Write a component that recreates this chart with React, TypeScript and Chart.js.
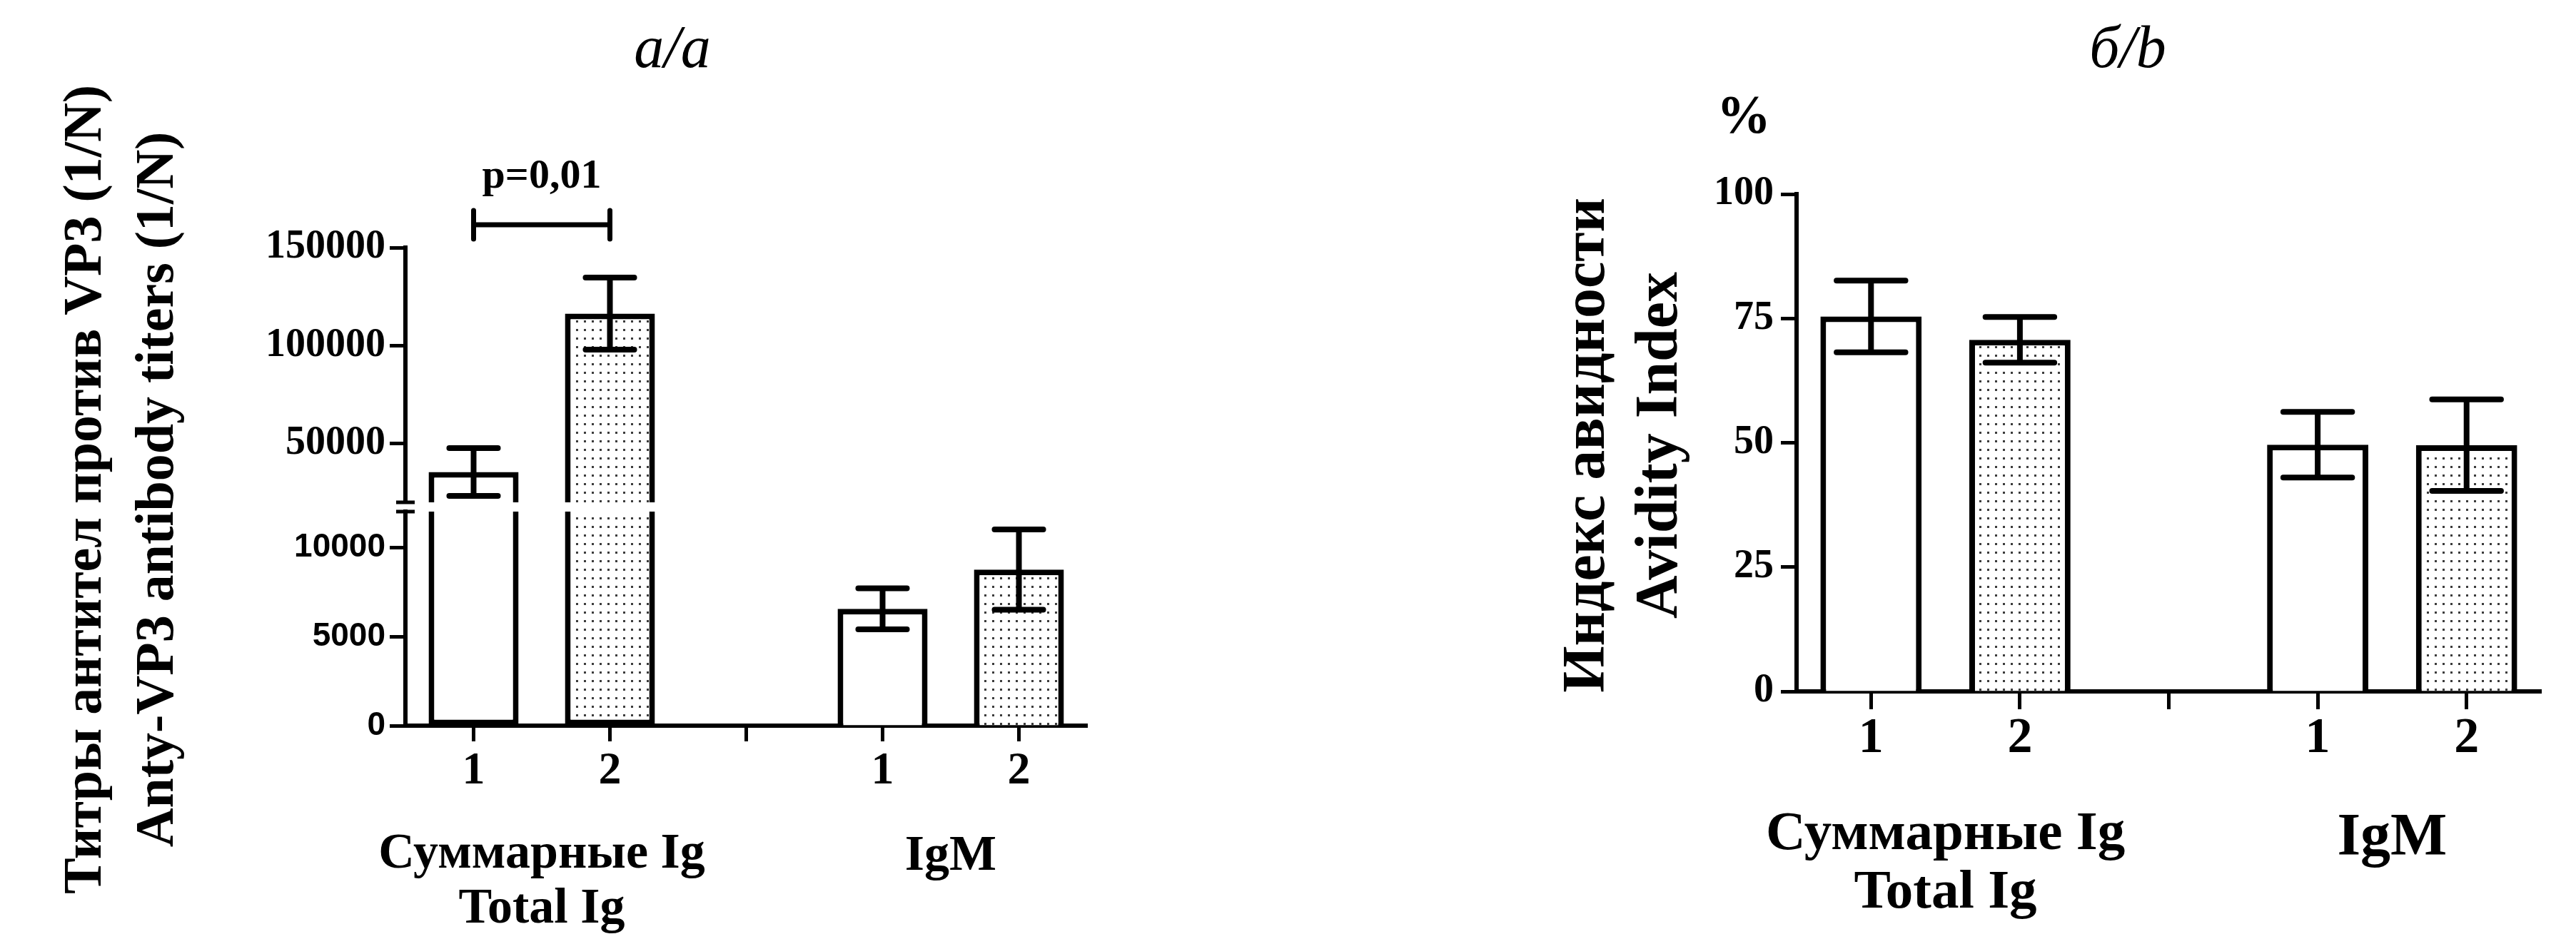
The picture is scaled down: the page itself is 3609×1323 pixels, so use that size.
import React, { useEffect, useRef } from 'react';
import { Chart, registerables } from 'chart.js';

Chart.register(...registerables);

const SERIF = '"Liberation Serif", "Times New Roman", serif';
const SANS = '"Liberation Sans", Arial, sans-serif';

// ---------- data ----------
const categories = ['1', '2', '', '1', '2'];
const fillKinds = ['plain', 'dotted', 'none', 'plain', 'dotted'];

// panel a: antibody titers (broken axis)
const titerMeans = [35500, 116300, null, 6550, 8750];
const titerErrors = [12200, 18400, null, 1150, 2250];
const titerUpperTicks = [50000, 100000, 150000];
const titerLowerTicks = [0, 5000, 10000];
const titerUpperRange = [20000, 150000];
const titerLowerRange = [0, 12000];

// panel b: avidity index
const avidityMeans = [75.4, 70.7, null, 49.6, 49.5];
const avidityErrors = [7.2, 4.6, null, 6.6, 9.2];
const avidityTicks = [0, 25, 50, 75, 100];
const avidityRange = [0, 100];

// text
const titleA = 'а/a';
const titleB = 'б/b';
const yTitleA = ['Титры антител против VP3 (1/N)', 'Anty-VP3 antibody titers (1/N)'];
const yTitleB = ['Индекс авидности', 'Avidity Index'];
const unitB = '%';
const groupLabels = [['Суммарные Ig', 'Total Ig'], ['IgM']];
const groupMembers = [[0, 1], [3, 4]];
const pValueLabel = 'p=0,01';
const pValuePair = [0, 1];

// ---------- helpers ----------
function makeDots(): CanvasPattern | string {
  const c = document.createElement('canvas');
  c.width = 11;
  c.height = 12;
  const g = c.getContext('2d');
  if (!g) return '#eeeeee';
  g.fillStyle = '#ffffff';
  g.fillRect(0, 0, 11, 12);
  g.fillStyle = '#3c3c3c';
  g.fillRect(4, 5, 3, 3);
  const p = g.createPattern(c, 'repeat');
  return p || '#eeeeee';
}

function drawErrorBars(chart: any, means: any[], errs: any[], pickScale: (m: number) => any, capRatio: number) {
  const ctx = chart.ctx;
  const meta = chart.getDatasetMeta(0);
  ctx.save();
  ctx.strokeStyle = '#000';
  ctx.lineWidth = 8;
  means.forEach((m, i) => {
    const e = errs[i];
    if (m == null || e == null) return;
    const el = meta.data[i];
    if (!el) return;
    const { x, width } = el.getProps(['x', 'width'], true);
    const sc = pickScale(m);
    const yHi = sc.getPixelForValue(m + e);
    const yLo = sc.getPixelForValue(m - e);
    const half = width * capRatio / 2;
    ctx.lineCap = 'butt';
    ctx.beginPath();
    ctx.moveTo(x, yHi);
    ctx.lineTo(x, yLo);
    ctx.stroke();
    ctx.lineCap = 'round';
    ctx.beginPath();
    ctx.moveTo(x - half, yHi);
    ctx.lineTo(x + half, yHi);
    ctx.moveTo(x - half, yLo);
    ctx.lineTo(x + half, yLo);
    ctx.stroke();
  });
  ctx.restore();
}

function drawRotatedLines(ctx: any, lines: string[], xs: number[], cy: number, font: string) {
  lines.forEach((t, i) => {
    ctx.save();
    ctx.translate(xs[i], cy);
    ctx.rotate(-Math.PI / 2);
    ctx.font = font;
    ctx.textAlign = 'center';
    ctx.textBaseline = 'middle';
    ctx.fillText(t, 0, 0);
    ctx.restore();
  });
}

function drawGroupLabels(chart: any, fonts: string[], baselines: number[][]) {
  const ctx = chart.ctx;
  const xs = chart.scales.x;
  groupLabels.forEach((lines, gi) => {
    const mem = groupMembers[gi];
    const cx = mem.reduce((s, k) => s + xs.getPixelForValue(k), 0) / mem.length;
    lines.forEach((t, li) => {
      ctx.font = fonts[gi];
      ctx.textAlign = 'center';
      ctx.textBaseline = 'alphabetic';
      ctx.fillText(t, cx, baselines[gi][li]);
    });
  });
}

const axisTicks = (font: any, padding: number) => ({
  color: '#000',
  font,
  padding,
  callback: (v: any) => String(v),
});

const yGrid = { display: true, drawOnChartArea: false, drawTicks: true, tickLength: 22, tickWidth: 5, color: '#000' };
const yBorder = { display: true, width: 6, color: '#000' };

export default function App() {
  const refA = useRef<HTMLCanvasElement | null>(null);
  const refB = useRef<HTMLCanvasElement | null>(null);

  useEffect(() => {
    const dots = makeDots();
    const fills = fillKinds.map((k) => (k === 'dotted' ? dots : '#ffffff'));

    // ---------------- panel a ----------------
    const textA = {
      id: 'textA',
      afterDatasetsDraw(chart: any) {
        const yTop = chart.scales.yTop;
        const yBot = chart.scales.yBot;
        drawErrorBars(chart, titerMeans, titerErrors, (m) => (m > titerLowerRange[1] ? yTop : yBot), 0.54);
      },
      afterDraw(chart: any) {
        const ctx = chart.ctx;
        const ca = chart.chartArea;
        const yTop = chart.scales.yTop;
        const yBot = chart.scales.yBot;
        ctx.save();
        ctx.fillStyle = '#000';
        ctx.strokeStyle = '#000';
        // axis break marks
        ctx.lineWidth = 5;
        ctx.beginPath();
        ctx.moveTo(ca.left - 13, yTop.bottom);
        ctx.lineTo(ca.left + 13, yTop.bottom);
        ctx.moveTo(ca.left - 13, yBot.top);
        ctx.lineTo(ca.left + 13, yBot.top);
        ctx.stroke();
        // title
        ctx.font = `italic 84px ${SERIF}`;
        ctx.textAlign = 'center';
        ctx.textBaseline = 'alphabetic';
        ctx.fillText(titleA, 942, 94);
        // y title
        drawRotatedLines(ctx, yTitleA, [121, 222], 686, `bold 76px ${SERIF}`);
        // p value bracket
        const xs = chart.scales.x;
        const x1 = xs.getPixelForValue(pValuePair[0]);
        const x2 = xs.getPixelForValue(pValuePair[1]);
        const by = ca.top - 32;
        ctx.lineWidth = 7;
        ctx.lineCap = 'round';
        ctx.beginPath();
        ctx.moveTo(x1, by);
        ctx.lineTo(x2, by);
        ctx.moveTo(x1, by - 20);
        ctx.lineTo(x1, by + 20);
        ctx.moveTo(x2, by - 20);
        ctx.lineTo(x2, by + 20);
        ctx.stroke();
        ctx.font = `bold 58px ${SERIF}`;
        ctx.textAlign = 'center';
        ctx.fillText(pValueLabel, (x1 + x2) / 2, by - 52);
        // group labels
        drawGroupLabels(chart, [`bold 70px ${SERIF}`, `bold 70px ${SERIF}`], [[1216, 1293], [1219]]);
        ctx.restore();
      },
    };

    const chartA = new Chart(refA.current as HTMLCanvasElement, {
      type: 'bar',
      data: {
        labels: categories,
        datasets: [
          {
            label: 'lower',
            xAxisID: 'x',
            yAxisID: 'yBot',
            grouped: false,
            data: titerMeans.map((v) => (v == null ? null : [titerLowerRange[0], Math.min(v, titerLowerRange[1])])) as any,
            backgroundColor: fills as any,
            borderColor: '#000',
            borderWidth: 8,
            borderSkipped: titerMeans.map((v) => (v != null && v > titerLowerRange[1] ? 'end' : 'start')) as any,
            barPercentage: 0.66,
            categoryPercentage: 1,
          } as any,
          {
            label: 'upper',
            xAxisID: 'x',
            yAxisID: 'yTop',
            grouped: false,
            data: titerMeans.map((v) => (v != null && v > titerUpperRange[0] ? [titerUpperRange[0], v] : null)) as any,
            backgroundColor: fills as any,
            borderColor: '#000',
            borderWidth: 8,
            borderSkipped: 'start',
            barPercentage: 0.66,
            categoryPercentage: 1,
          } as any,
        ],
      },
      options: {
        responsive: false,
        animation: false,
        devicePixelRatio: 1,
        layout: { padding: { left: 298, right: 237, top: 347, bottom: 186 } },
        plugins: { legend: { display: false }, tooltip: { enabled: false }, title: { display: false } },
        scales: {
          x: {
            type: 'category',
            offset: true,
            grid: { display: true, offset: false, drawOnChartArea: false, drawTicks: true, tickLength: 22, tickWidth: 5, color: '#000' },
            border: { display: true, width: 6, color: '#000' },
            ticks: { color: '#000', font: { family: SERIF, weight: 'bold', size: 64 }, padding: 4, maxRotation: 0, autoSkip: false },
            afterFit: (s: any) => { s.height = 120; },
          },
          yBot: {
            type: 'linear',
            position: 'left',
            stack: 'titers',
            stackWeight: 300,
            weight: 1,
            min: titerLowerRange[0],
            max: titerLowerRange[1],
            afterBuildTicks: (s: any) => { s.ticks = titerLowerTicks.map((value) => ({ value })); },
            afterFit: (s: any) => { s.width = 270; },
            ticks: axisTicks({ family: SANS, weight: 'bold', size: 46 }, 6),
            grid: yGrid,
            border: yBorder,
          },
          yGap: {
            type: 'linear',
            position: 'left',
            stack: 'titers',
            stackWeight: 13,
            weight: 2,
            ticks: { display: false },
            grid: { display: false },
            border: { display: false },
            afterFit: (s: any) => { s.width = 270; },
          },
          yTop: {
            type: 'linear',
            position: 'left',
            stack: 'titers',
            stackWeight: 357,
            weight: 3,
            min: titerUpperRange[0],
            max: titerUpperRange[1],
            afterBuildTicks: (s: any) => { s.ticks = titerUpperTicks.map((value) => ({ value })); },
            afterFit: (s: any) => { s.width = 270; },
            ticks: axisTicks({ family: SERIF, weight: 'bold', size: 56 }, 6),
            grid: yGrid,
            border: yBorder,
          },
        } as any,
      },
      plugins: [textA],
    } as any);

    // ---------------- panel b ----------------
    const textB = {
      id: 'textB',
      afterDatasetsDraw(chart: any) {
        const y = chart.scales.y;
        drawErrorBars(chart, avidityMeans, avidityErrors, () => y, 0.68);
      },
      afterDraw(chart: any) {
        const ctx = chart.ctx;
        ctx.save();
        ctx.fillStyle = '#000';
        ctx.font = `italic 84px ${SERIF}`;
        ctx.textAlign = 'center';
        ctx.textBaseline = 'alphabetic';
        ctx.fillText(titleB, 1081, 94);
        ctx.font = `bold 76px ${SERIF}`;
        ctx.textBaseline = 'middle';
        ctx.fillText(unitB, 543, 166);
        drawRotatedLines(ctx, yTitleB, [325, 427], 624, `bold 84px ${SERIF}`);
        drawGroupLabels(chart, [`bold 77px ${SERIF}`, `bold 84px ${SERIF}`], [[1190, 1272], [1198]]);
        ctx.restore();
      },
    };

    const chartB = new Chart(refB.current as HTMLCanvasElement, {
      type: 'bar',
      data: {
        labels: categories,
        datasets: [
          {
            label: 'avidity',
            data: avidityMeans as any,
            backgroundColor: fills as any,
            borderColor: '#000',
            borderWidth: 8,
            borderSkipped: 'start',
            barPercentage: 0.68,
            categoryPercentage: 1,
          } as any,
        ],
      },
      options: {
        responsive: false,
        animation: false,
        devicePixelRatio: 1,
        layout: { padding: { left: 417, right: 49, top: 272, bottom: 234 } },
        plugins: { legend: { display: false }, tooltip: { enabled: false }, title: { display: false } },
        scales: {
          x: {
            type: 'category',
            offset: true,
            grid: { display: true, offset: false, drawOnChartArea: false, drawTicks: true, tickLength: 25, tickWidth: 5, color: '#000' },
            border: { display: true, width: 6, color: '#000' },
            ticks: { color: '#000', font: { family: SERIF, weight: 'bold', size: 70 }, padding: 0, maxRotation: 0, autoSkip: false },
            afterFit: (s: any) => { s.height = 120; },
          },
          y: {
            type: 'linear',
            position: 'left',
            min: avidityRange[0],
            max: avidityRange[1],
            afterBuildTicks: (s: any) => { s.ticks = avidityTicks.map((value) => ({ value })); },
            afterFit: (s: any) => { s.width = 200; },
            ticks: axisTicks({ family: SERIF, weight: 'bold', size: 56 }, 10),
            grid: yGrid,
            border: yBorder,
          },
        } as any,
      },
      plugins: [textB],
    } as any);

    return () => {
      chartA.destroy();
      chartB.destroy();
    };
  }, []);

  return (
    <div style={{ position: 'fixed', left: 0, top: 0, width: 3609, height: 1323, background: '#ffffff', overflow: 'hidden' }}>
      <canvas ref={refA} width={1760} height={1323} style={{ position: 'absolute', left: 0, top: 0 }} />
      <canvas ref={refB} width={1709} height={1323} style={{ position: 'absolute', left: 1900, top: 0 }} />
    </div>
  );
}
